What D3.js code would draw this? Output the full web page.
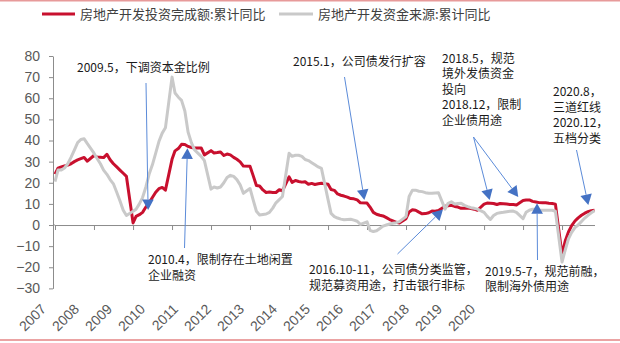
<!DOCTYPE html>
<html><head><meta charset="utf-8">
<script src="https://cdn.jsdelivr.net/npm/d3@7"></script>
<style>
html,body{margin:0;padding:0;background:#fff;}
svg{display:block;}
</style></head>
<body>
<svg id="chart" width="620" height="343"></svg>
<script>
// ---------- data ----------
const years = [2007,2008,2009,2010,2011,2012,2013,2014,2015,2016,2017,2018,2019,2020];
const yearLabels = years.map(String);
const monthsInYear = [2,3,4,5,6,7,8,9,10,11,12]; // Jan–Feb reported together
const yTicks = [-30,-20,-10,0,10,20,30,40,50,60,70,80];
const seriesNames = ["房地产开发投资完成额:累计同比","房地产开发资金来源:累计同比"];

// 房地产开发投资完成额:累计同比 (%), Feb..Dec each year
const investYoY = [
  24.1,26.9,27.5,28.0,28.4,29.0,30.0,30.8,31.4,32.0,30.2,
  32.9,32.2,32.1,31.9,33.5,30.9,29.0,27.5,26.0,24.5,23.0,
  1.0,4.1,4.9,6.0,8.5,10.5,13.0,15.5,17.2,17.8,16.5,
  31.1,35.1,36.2,38.2,38.1,37.2,36.7,36.4,36.5,36.5,33.2,
  35.2,34.1,34.3,34.6,32.9,33.6,33.2,32.0,31.1,29.9,27.9,
  27.8,23.5,18.7,18.5,16.6,15.4,15.6,15.4,15.4,16.7,16.2,
  22.8,20.2,21.1,20.6,20.3,20.5,19.3,19.7,19.2,19.5,19.8,
  19.3,16.8,16.4,14.7,14.1,13.7,13.2,12.5,12.4,11.9,10.5,
  10.4,8.5,6.0,5.1,4.6,4.3,3.5,2.6,2.0,1.3,1.0,
  3.0,6.2,7.2,7.0,6.1,5.3,5.4,5.8,6.6,6.5,6.9,
  8.9,9.1,9.3,8.8,8.5,7.9,7.9,8.1,7.8,7.5,7.0,
  9.9,10.4,10.3,10.2,9.7,10.2,10.1,9.9,9.7,9.7,9.5,
  11.6,11.8,11.9,11.2,10.9,10.6,10.5,10.5,10.3,10.2,9.9,
  -14.0,-7.7,-3.3,-0.3,1.9,3.4,4.6,5.6,6.3,6.8,7.0
];
// 房地产开发资金来源:累计同比 (%), Feb..Dec each year
const fundsYoY = [
  20.5,26.0,26.0,27.0,29.0,32.0,35.5,39.0,40.5,40.8,38.5,
  34.0,31.5,29.0,26.0,24.0,21.5,19.5,15.5,11.5,7.0,4.5,
  6.5,7.5,10.0,13.0,18.0,24.0,28.5,34.0,39.5,43.5,46.0,
  70.0,62.5,60.5,59.0,54.0,44.0,39.0,35.5,34.0,32.5,30.5,
  17.0,18.0,17.5,18.0,20.0,22.5,23.5,23.0,21.5,19.0,15.0,
  17.3,12.0,6.5,4.7,5.0,5.2,6.0,8.0,10.5,12.0,13.5,
  34.0,32.5,33.0,33.0,32.5,31.0,30.5,29.5,28.5,27.5,26.8,
  12.0,5.5,4.0,3.3,2.8,2.5,2.6,2.7,2.3,1.8,0.3,
  1.5,-2.5,-3.1,-2.7,-1.6,-0.5,0.0,0.5,0.8,1.1,1.6,
  4.0,13.5,16.5,16.5,16.0,15.8,15.3,15.0,15.0,15.2,15.3,
  7.5,10.3,11.0,10.0,10.2,10.3,9.3,8.7,8.2,7.9,7.5,
  6.0,4.2,2.6,4.5,5.5,5.8,6.0,6.3,6.5,6.6,6.0,
  3.0,6.0,7.0,7.5,7.5,7.0,7.0,7.0,7.0,7.0,6.5,
  -17.5,-12.0,-6.5,-3.5,-1.2,0.0,1.7,3.3,4.6,5.8,6.8
];

// policy annotations: arrow tips in data space
const annotations = [
  {lines:["2009.5，下调资本金比例"], tx:77, ty:72, tails:[[146,83]], tips:[[new Date(2009,5,22),7.1]]},
  {lines:["2010.4，限制存在土地闲置","企业融资"], tx:148, ty:264, tails:[[184.5,248]], tips:[[new Date(2010,5,25),36.3]], up:true},
  {lines:["2015.1，公司债发行扩容"], tx:293, ty:66, tails:[[344.5,77]], tips:[[new Date(2015,0,7),11.8]]},
  {lines:["2016.10-11，公司债分类监管，","规范募资用途，打击银行非标"], tx:309, ty:274, tails:[[397.5,254]], tips:[[new Date(2017,0,12),7.3]]},
  {lines:["2018.5，规范","境外发债资金","投向","2018.12，限制","企业债用途"], tx:442, ty:62.5, tails:[[473.5,137],[473.5,137]], tips:[[new Date(2018,2,25),11.8],[new Date(2018,11,18),13.3]]},
  {lines:["2019.5-7，规范前融，","限制海外债用途"], tx:485, ty:275.5, tails:[[537.5,260]], tips:[[new Date(2019,5,12),10.3]]},
  {lines:["2020.8，","三道红线","2020.12，","五档分类"], tx:553, ty:96, tails:[[576.5,150]], tips:[[new Date(2020,9,4),9.5]]}
];

// ---------- build ----------
const dates = years.flatMap(y => monthsInYear.map(m => new Date(y, m-1, 1)));
const invest = dates.map((d,i)=>({d, v: investYoY[i]}));
const funds  = dates.map((d,i)=>({d, v: fundsYoY[i]}));

const svg = d3.select("#chart");
const W = 620, H = 343;
const RED = "#c8102e", GRAY = "#c9c9c9", BLUE = "#4472c4";
const CJK = "'Noto Sans CJK SC','Noto Sans',sans-serif";

const x = d3.scaleTime().domain([new Date(2007,1,1), new Date(2020,11,1)]).range([55, 594.5]);
const y = d3.scaleLinear().domain([-30, 80]).range([288.4, 56]);

// frame lines
svg.append("line").attr("x1",0).attr("x2",W).attr("y1",0.75).attr("y2",0.75).attr("stroke","#e79a9a").attr("stroke-width",1.5);
svg.append("line").attr("x1",0).attr("x2",W).attr("y1",340).attr("y2",340).attr("stroke","#e58585").attr("stroke-width",1.5);

// y axis
const yAxis = d3.axisLeft(y).tickValues(yTicks).tickSize(4).tickPadding(9).tickSizeOuter(0);
const gy = svg.append("g").attr("transform","translate(53,0)").call(yAxis);
gy.select(".domain").attr("stroke","#8c8c8c");
gy.selectAll(".tick line").attr("stroke","#8c8c8c");
gy.selectAll("text").attr("fill","#595959").style("font-family","'Liberation Sans',Arial,sans-serif").style("font-size","14px");

// x axis at zero
const febTicks = years.map(yv => new Date(yv,1,1));
const xAxis = d3.axisBottom(x).tickValues(febTicks).tickSize(5).tickSizeOuter(0).tickFormat("");
const gx = svg.append("g").attr("transform",`translate(0,${y(0)})`).call(xAxis);
gx.select(".domain").attr("stroke","#8c8c8c");
gx.selectAll(".tick line").attr("stroke","#8c8c8c");
svg.append("line").attr("x1",53).attr("x2",55).attr("y1",y(0)).attr("y2",y(0)).attr("stroke","#8c8c8c");

// year labels (rotated)
const xl = d3.scalePoint().domain(yearLabels).range([47, 476]);
svg.append("g").selectAll("text").data(yearLabels).join("text")
  .attr("transform", d => `translate(${xl(d)},310) rotate(-45)`)
  .attr("text-anchor","end")
  .attr("fill","#595959")
  .style("font-family","'Liberation Sans',Arial,sans-serif").style("font-size","14px")
  .text(d => d);

// lines
const line = d3.line().x(p => x(p.d)).y(p => y(p.v)).curve(d3.curveLinear);
svg.append("path").datum(invest).attr("d",line).attr("fill","none").attr("stroke",RED).attr("stroke-width",3).attr("stroke-linejoin","round");
svg.append("path").datum(funds).attr("d",line).attr("fill","none").attr("stroke",GRAY).attr("stroke-width",3).attr("stroke-linejoin","round");

// legend
const lg = svg.append("g");
lg.append("line").attr("x1",42).attr("x2",75).attr("y1",14).attr("y2",14).attr("stroke",RED).attr("stroke-width",3);
lg.append("text").attr("x",80).attr("y",18.5).text(seriesNames[0]);
lg.append("line").attr("x1",279).attr("x2",313).attr("y1",14).attr("y2",14).attr("stroke",GRAY).attr("stroke-width",3);
lg.append("text").attr("x",318).attr("y",18.5).text(seriesNames[1]);
lg.selectAll("text").attr("fill","#404040").style("font-family",CJK).style("font-size","13px");

// annotations
const ag = svg.append("g");
annotations.forEach(a => {
  const t = ag.append("text").attr("x",a.tx).attr("y",a.ty).attr("fill","#1a1a1a")
    .style("font-family",CJK).style("font-size","12px");
  a.lines.forEach((l,i) => t.append("tspan").attr("x",a.tx).attr("dy", i===0?0:15.5).text(l));
  a.tips.forEach((tp,i) => {
    const [tx0, ty0] = a.tails[i];
    const px = x(tp[0]), py = y(tp[1]);
    const dx = px - tx0, dy = py - ty0, len = Math.hypot(dx,dy);
    const ux = dx/len, uy = dy/len;
    const hl = 10.5, hw = 5.8;
    const bx = px - ux*hl, by = py - uy*hl;
    ag.append("line").attr("x1",tx0).attr("y1",ty0).attr("x2",bx).attr("y2",by)
      .attr("stroke","#5b8bd9").attr("stroke-width",1);
    ag.append("path").attr("d",`M${px},${py}L${bx - uy*hw},${by + ux*hw}L${bx + uy*hw},${by - ux*hw}Z`)
      .attr("fill",BLUE);
  });
});
</script>
</body></html>
